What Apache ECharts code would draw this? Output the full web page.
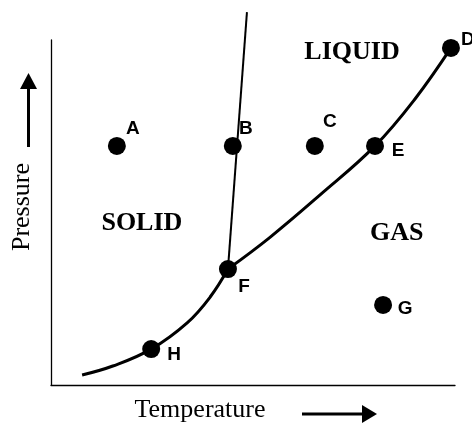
<!DOCTYPE html>
<html>
<head>
<meta charset="utf-8">
<script src="https://cdn.jsdelivr.net/npm/echarts@6/dist/echarts.min.js"></script>
<style>
  html, body { margin: 0; padding: 0; background: #fff; }
  #chart { width: 472px; height: 425px; }
</style>
</head>
<body>
<div id="chart"></div>
<script>
// phase diagram, arbitrary units 0-100 on both axes
var pointNames = ['A', 'B', 'C', 'D', 'E', 'F', 'G', 'H'];
var pointTemp = [16.3, 45.0, 65.3, 99.0, 80.2, 43.8, 82.2, 24.8];
var pointPress = [69.3, 69.3, 69.3, 97.7, 69.3, 33.6, 23.2, 10.4];

// solid-gas boundary
var sublimTemp = [7.7, 15.3, 24.8, 33.7, 39.4, 43.8];
var sublimPress = [2.9, 5.5, 10.4, 18.0, 25.5, 33.6];

// liquid-gas boundary
var vaporTemp = [43.8, 54.2, 66.6, 80.2, 90.1, 99.0];
var vaporPress = [33.6, 42.8, 55.1, 69.3, 82.9, 97.7];

// solid-liquid boundary
var fusionTemp = [43.8, 48.5];
var fusionPress = [33.6, 108.1];

var regionNames = ['LIQUID', 'SOLID', 'GAS'];
var regionTemp = [74.5, 22.5, 85.6];
var regionPress = [96.5, 46.8, 44.1];

function zip(xs, ys) {
  return xs.map(function (x, i) { return [x, ys[i]]; });
}

var labelOffset = {
  A: [16, -17], B: [13, -17], C: [15, -24], D: [17, -8],
  E: [23, 5], F: [16, 18], G: [22, 4], H: [23, 6]
};

var lineStyleCurve = { color: '#000', width: 3 };

var myChart = echarts.init(document.getElementById('chart'));
myChart.setOption({
  animation: false,
  grid: { left: 51, top: 40, width: 404, height: 345 },
  xAxis: {
    type: 'value', min: 0, max: 100,
    axisLine: { lineStyle: { color: '#000', width: 1.3 } },
    axisTick: { show: false },
    axisLabel: { show: false },
    splitLine: { show: false }
  },
  yAxis: {
    type: 'value', min: 0, max: 100,
    axisLine: { show: true, lineStyle: { color: '#000', width: 1.3 } },
    axisTick: { show: false },
    axisLabel: { show: false },
    splitLine: { show: false }
  },
  graphic: [
    {
      type: 'text', x: 22, y: 207, rotation: Math.PI / 2,
      style: {
        text: 'Pressure', fill: '#000',
        font: '26px "Liberation Serif", "Times New Roman", serif',
        textAlign: 'center', textVerticalAlign: 'middle'
      }
    },
    { type: 'line', shape: { x1: 28.5, y1: 147, x2: 28.5, y2: 87 }, style: { stroke: '#000', lineWidth: 3 } },
    { type: 'polygon', shape: { points: [[20, 89], [37, 89], [28.5, 73]] }, style: { fill: '#000' } },
    {
      type: 'text', x: 200, y: 410,
      style: {
        text: 'Temperature', fill: '#000',
        font: '26px "Liberation Serif", "Times New Roman", serif',
        textAlign: 'center', textVerticalAlign: 'middle'
      }
    },
    { type: 'line', shape: { x1: 302, y1: 414, x2: 364, y2: 414 }, style: { stroke: '#000', lineWidth: 3 } },
    { type: 'polygon', shape: { points: [[362, 405], [362, 423], [377, 414]] }, style: { fill: '#000' } }
  ],
  series: [
    {
      type: 'line', data: zip(sublimTemp, sublimPress), smooth: 0.4,
      symbol: 'none', lineStyle: lineStyleCurve, z: 2
    },
    {
      type: 'line', data: zip(vaporTemp, vaporPress), smooth: 0.4,
      symbol: 'none', lineStyle: lineStyleCurve, z: 2
    },
    {
      type: 'line', data: zip(fusionTemp, fusionPress), clip: false,
      symbol: 'none', lineStyle: { color: '#000', width: 2 }, z: 2
    },
    {
      type: 'scatter', symbolSize: 18, z: 3,
      itemStyle: { color: '#000', opacity: 1 },
      data: pointNames.map(function (n, i) {
        return {
          name: n, value: [pointTemp[i], pointPress[i]],
          label: { offset: labelOffset[n] }
        };
      }),
      label: {
        show: true, position: 'inside', formatter: '{b}',
        color: '#000', fontSize: 19, fontWeight: 'bold',
        fontFamily: '"Liberation Sans", Arial, sans-serif'
      }
    },
    {
      type: 'scatter', symbolSize: 0, z: 3,
      itemStyle: { opacity: 1 },
      data: regionNames.map(function (n, i) {
        return { name: n, value: [regionTemp[i], regionPress[i]] };
      }),
      label: {
        show: true, position: 'inside', formatter: '{b}',
        color: '#000', fontSize: 26, fontWeight: 'bold',
        fontFamily: '"Liberation Serif", "Times New Roman", serif'
      }
    }
  ]
});
</script>
</body>
</html>
